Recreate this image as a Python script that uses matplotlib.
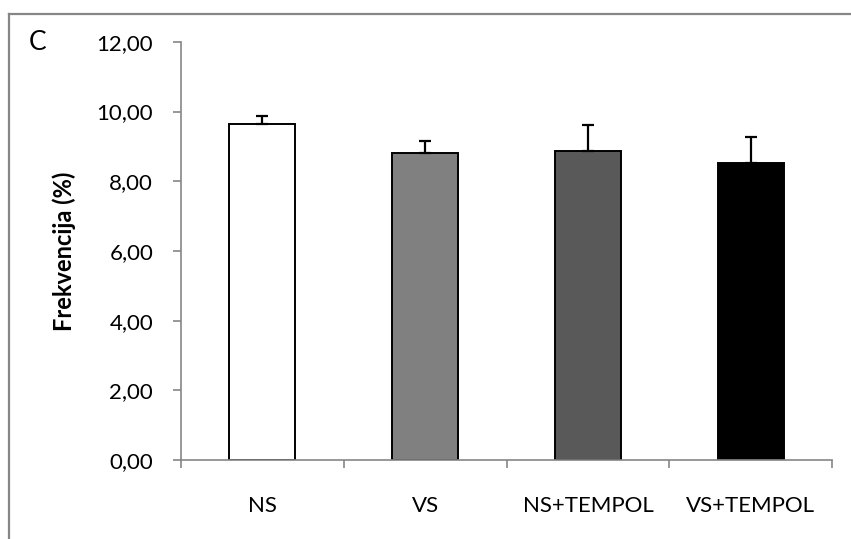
import numpy as np
import matplotlib.pyplot as plt
from matplotlib.lines import Line2D
from matplotlib.ticker import FuncFormatter

# data
groups = ['NS', 'VS', 'NS+TEMPOL', 'VS+TEMPOL']
values = [9.65, 8.82, 8.86, 8.51]
errors = [0.23, 0.34, 0.75, 0.77]
colors = ['#ffffff', '#808080', '#595959', '#000000']
y_ticks = [0, 2, 4, 6, 8, 10, 12]

plt.rcParams['font.family'] = ['Lato', 'DejaVu Sans']
GRAY = '#868686'
FS = 16

fig = plt.figure(figsize=(8.51, 5.39), dpi=100)
ax = fig.add_axes([0.2127, 0.1466, 0.765, 0.7758])

x = np.arange(len(groups))
ax.bar(x, values, width=0.405, color=colors, edgecolor='black', linewidth=1.4, zorder=2)
ax.errorbar(x, values, yerr=[np.zeros(len(errors)), errors], fmt='none',
            ecolor='black', elinewidth=1.6, capsize=4.5, capthick=1.6, zorder=3)

ax.set_xlim(-0.5, len(groups) - 0.5)
ax.set_ylim(0, 12)
ax.set_yticks(y_ticks)
ax.yaxis.set_major_formatter(FuncFormatter(lambda v, p: '{0:.2f}'.format(v).replace('.', ',')))

ax.set_xticks(x)
ax.set_xticklabels(groups)
ax.set_xticks(np.arange(len(groups) + 1) - 0.5, minor=True)
ax.tick_params(axis='x', which='major', length=0, pad=26, labelsize=FS)
ax.tick_params(axis='x', which='minor', length=6, width=1.2, color=GRAY, direction='out')
ax.tick_params(axis='y', length=6, width=1.2, color=GRAY, direction='out', pad=14, labelsize=FS)

for s in ['top', 'right']:
    ax.spines[s].set_visible(False)
for s in ['left', 'bottom']:
    ax.spines[s].set_color(GRAY)
    ax.spines[s].set_linewidth(1.2)

ax.set_ylabel('Frekvencija (%)', fontsize=17, fontweight='bold', labelpad=15)
fig.text(29 / 851, 1 - 43 / 539, 'C', fontsize=19, va='center', ha='left')

# outer frame (top and left edges visible in the reference)
fig.add_artist(Line2D([9 / 851, 1.0], [1 - 14 / 539, 1 - 14 / 539], transform=fig.transFigure,
                      color=GRAY, linewidth=1.6))
fig.add_artist(Line2D([9 / 851, 9 / 851], [0.0, 1 - 14 / 539], transform=fig.transFigure,
                      color=GRAY, linewidth=1.6))

fig.savefig('out.png', dpi=100)
